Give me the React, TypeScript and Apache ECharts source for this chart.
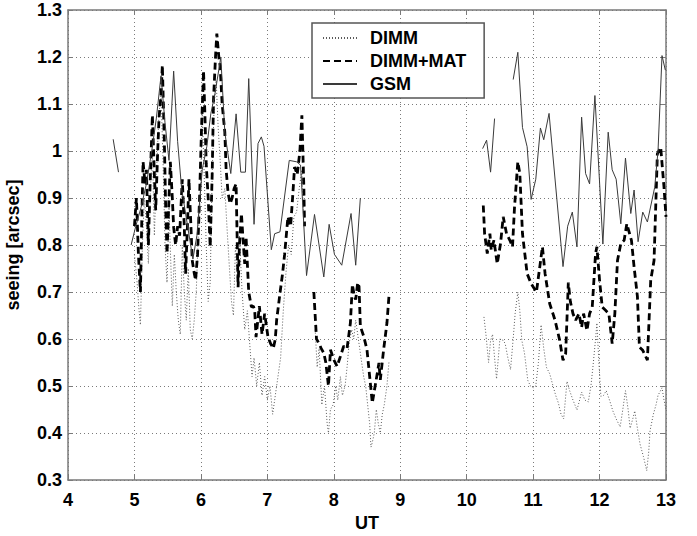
import React, { useEffect, useRef } from "react";
import * as echarts from "echarts";

// Seeing measurements against universal time [UT, arcsec]
const dimmA: [number, number][] = [
  [5.0, 0.78], [5.04, 0.72], [5.07, 0.66], [5.09, 0.63], [5.12, 0.8], [5.15, 0.9], [5.18, 0.84], [5.21, 0.76],
  [5.24, 0.92], [5.27, 1.0], [5.3, 0.82], [5.33, 0.95], [5.37, 1.08], [5.4, 1.12], [5.43, 0.98], [5.46, 0.8],
  [5.49, 0.72], [5.52, 0.88], [5.55, 0.75], [5.57, 0.67], [5.6, 0.78], [5.63, 0.7], [5.66, 0.64], [5.69, 0.61],
  [5.72, 0.8], [5.75, 0.7], [5.78, 0.64], [5.81, 0.75], [5.84, 0.62], [5.87, 0.6], [5.9, 0.64], [5.93, 0.7],
  [5.96, 0.82], [5.99, 0.9], [6.02, 1.08], [6.05, 0.95], [6.08, 0.8], [6.11, 0.68], [6.14, 0.72], [6.17, 0.95],
  [6.2, 1.1], [6.23, 1.15], [6.26, 1.05], [6.29, 0.98], [6.32, 0.9], [6.36, 0.92], [6.4, 0.82], [6.43, 0.75],
  [6.46, 0.68], [6.49, 0.65], [6.52, 0.8], [6.55, 0.72], [6.58, 0.82], [6.62, 0.7], [6.66, 0.62], [6.7, 0.66],
  [6.74, 0.58], [6.77, 0.52], [6.8, 0.56], [6.84, 0.5], [6.88, 0.55], [6.92, 0.48], [6.96, 0.52], [7.0, 0.47],
  [7.04, 0.5], [7.08, 0.44], [7.12, 0.48], [7.16, 0.52], [7.2, 0.56], [7.24, 0.66], [7.28, 0.74], [7.32, 0.8],
  [7.36, 0.78], [7.4, 0.86], [7.44, 0.87], [7.48, 0.92], [7.52, 0.96], [7.55, 0.84],
];
const dimmB: [number, number][] = [
  [7.72, 0.62], [7.75, 0.54], [7.78, 0.58], [7.82, 0.46], [7.86, 0.5], [7.9, 0.42], [7.92, 0.4], [7.95, 0.45],
  [7.99, 0.46], [8.03, 0.5], [8.06, 0.47], [8.1, 0.52], [8.13, 0.48], [8.17, 0.5], [8.2, 0.54], [8.23, 0.59],
  [8.27, 0.62], [8.3, 0.6], [8.33, 0.64], [8.37, 0.6], [8.41, 0.56], [8.45, 0.52], [8.48, 0.5], [8.51, 0.46],
  [8.54, 0.42], [8.56, 0.37], [8.58, 0.38], [8.61, 0.4], [8.64, 0.45], [8.67, 0.42], [8.7, 0.4], [8.73, 0.44],
  [8.76, 0.46], [8.8, 0.5], [8.83, 0.55],
];
const dimmC: [number, number][] = [
  [10.26, 0.647], [10.29, 0.61], [10.33, 0.55], [10.36, 0.597], [10.39, 0.61], [10.42, 0.56], [10.45, 0.515],
  [10.5, 0.6], [10.55, 0.597], [10.58, 0.59], [10.62, 0.56], [10.66, 0.535], [10.7, 0.6], [10.73, 0.655],
  [10.77, 0.7], [10.8, 0.66], [10.83, 0.597], [10.87, 0.57], [10.92, 0.512], [10.96, 0.5], [11.0, 0.496],
  [11.04, 0.5], [11.08, 0.55], [11.12, 0.63], [11.16, 0.58], [11.2, 0.54], [11.25, 0.526], [11.3, 0.5],
  [11.34, 0.48], [11.38, 0.464], [11.42, 0.44], [11.46, 0.43], [11.51, 0.51], [11.55, 0.49], [11.6, 0.47],
  [11.66, 0.449], [11.7, 0.47], [11.73, 0.487], [11.78, 0.47], [11.83, 0.466], [11.87, 0.5], [11.9, 0.54],
  [11.94, 0.6], [11.96, 0.634], [11.99, 0.55], [12.02, 0.478], [12.06, 0.48], [12.1, 0.49], [12.15, 0.47],
  [12.2, 0.447], [12.25, 0.43], [12.31, 0.413], [12.35, 0.45], [12.39, 0.49], [12.43, 0.45], [12.46, 0.41],
  [12.5, 0.43], [12.53, 0.447], [12.57, 0.41], [12.61, 0.376], [12.66, 0.35], [12.71, 0.32], [12.74, 0.36],
  [12.76, 0.405], [12.81, 0.44], [12.85, 0.46], [12.88, 0.48], [12.94, 0.496], [12.97, 0.47], [13.0, 0.45],
];

const matA: [number, number][] = [
  [5.0, 0.84], [5.03, 0.9], [5.06, 0.78], [5.09, 0.7], [5.11, 0.85], [5.13, 0.977], [5.16, 0.93], [5.18, 0.96],
  [5.21, 0.8], [5.24, 0.95], [5.27, 1.076], [5.3, 0.95], [5.32, 0.874], [5.35, 1.0], [5.37, 1.07], [5.4, 1.12],
  [5.42, 1.182], [5.45, 1.02], [5.47, 0.88], [5.49, 0.782], [5.52, 0.9], [5.54, 0.977], [5.57, 0.9], [5.59, 0.838],
  [5.62, 0.8], [5.65, 0.84], [5.68, 0.82], [5.72, 0.94], [5.75, 0.84], [5.77, 0.739], [5.8, 0.85], [5.82, 0.94],
  [5.85, 0.84], [5.87, 0.767], [5.9, 0.74], [5.92, 0.725], [5.95, 0.78], [5.98, 0.9], [6.01, 1.05], [6.04, 1.17],
  [6.06, 1.08], [6.08, 0.973], [6.11, 0.9], [6.14, 0.796], [6.17, 0.95], [6.19, 1.11], [6.22, 1.2], [6.24, 1.25],
  [6.27, 1.2], [6.29, 1.18], [6.32, 1.1], [6.36, 1.04], [6.38, 0.96], [6.41, 0.91], [6.44, 0.888], [6.47, 0.9],
  [6.5, 0.92], [6.53, 0.93], [6.56, 0.71], [6.58, 0.8], [6.61, 0.867], [6.64, 0.8], [6.66, 0.76], [6.68, 0.817],
  [6.72, 0.7], [6.76, 0.668], [6.79, 0.67], [6.81, 0.661], [6.83, 0.604], [6.88, 0.67], [6.92, 0.61], [6.96, 0.654],
  [7.01, 0.604], [7.05, 0.59], [7.09, 0.58], [7.12, 0.6], [7.14, 0.64], [7.19, 0.697], [7.23, 0.74], [7.26, 0.78],
  [7.31, 0.86], [7.35, 0.84], [7.38, 0.9], [7.41, 0.966], [7.45, 0.95], [7.49, 1.0], [7.52, 1.076], [7.55, 0.92],
  [7.56, 0.84],
];
const matB: [number, number][] = [
  [7.7, 0.7], [7.74, 0.6], [7.78, 0.59], [7.81, 0.58], [7.85, 0.57], [7.88, 0.55], [7.92, 0.5], [7.95, 0.577],
  [8.0, 0.556], [8.05, 0.542], [8.1, 0.563], [8.15, 0.585], [8.2, 0.58], [8.25, 0.634], [8.28, 0.716], [8.31, 0.69],
  [8.33, 0.684], [8.36, 0.72], [8.38, 0.712], [8.4, 0.627], [8.45, 0.606], [8.5, 0.577], [8.55, 0.506],
  [8.58, 0.464], [8.61, 0.49], [8.63, 0.506], [8.68, 0.549], [8.7, 0.513], [8.75, 0.577], [8.8, 0.634], [8.83, 0.69],
];
const matC: [number, number][] = [
  [10.25, 0.884], [10.27, 0.824], [10.31, 0.782], [10.35, 0.824], [10.37, 0.789], [10.41, 0.81], [10.46, 0.76],
  [10.51, 0.803], [10.55, 0.86], [10.6, 0.824], [10.65, 0.81], [10.69, 0.796], [10.72, 0.88], [10.77, 0.977],
  [10.8, 0.952], [10.84, 0.824], [10.91, 0.739], [10.97, 0.718], [11.05, 0.7], [11.1, 0.753], [11.14, 0.796],
  [11.18, 0.739], [11.25, 0.675], [11.33, 0.64], [11.4, 0.597], [11.45, 0.555], [11.49, 0.569], [11.53, 0.72],
  [11.56, 0.68], [11.6, 0.654], [11.64, 0.64], [11.69, 0.654], [11.73, 0.625], [11.76, 0.654], [11.81, 0.618],
  [11.85, 0.654], [11.89, 0.668], [11.94, 0.782], [11.96, 0.796], [12.0, 0.725], [12.04, 0.668], [12.09, 0.661],
  [12.14, 0.654], [12.19, 0.59], [12.23, 0.654], [12.27, 0.767], [12.32, 0.803], [12.37, 0.81], [12.41, 0.845],
  [12.44, 0.83], [12.48, 0.81], [12.52, 0.753], [12.57, 0.69], [12.6, 0.583], [12.65, 0.576], [12.72, 0.555],
  [12.77, 0.725], [12.82, 0.767], [12.87, 0.994], [12.92, 1.008], [12.97, 0.923], [13.0, 0.86],
];

const gsmA: [number, number][] = [[4.68, 1.025], [4.76, 0.955]];
const gsmB: [number, number][] = [
  [4.95, 0.8], [5.02, 0.84], [5.1, 0.88], [5.18, 0.93], [5.26, 1.0], [5.33, 1.07], [5.4, 1.16], [5.46, 1.06],
  [5.52, 0.98], [5.59, 1.17], [5.65, 1.02], [5.71, 0.92], [5.8, 0.84], [5.88, 0.77], [5.94, 0.82], [6.02, 0.96],
  [6.09, 1.01], [6.15, 1.08], [6.21, 1.12], [6.3, 1.2], [6.36, 1.04], [6.45, 0.952], [6.53, 1.079], [6.6, 0.955],
  [6.67, 0.955], [6.72, 1.154], [6.8, 0.844], [6.86, 1.016], [6.91, 1.03], [6.95, 1.01], [7.06, 0.79], [7.11, 0.824],
  [7.19, 0.828], [7.33, 0.98], [7.44, 0.977], [7.5, 0.97], [7.59, 0.735], [7.71, 0.865], [7.85, 0.732],
  [7.93, 0.844], [8.01, 0.78], [8.12, 0.757], [8.26, 0.867], [8.33, 0.757], [8.4, 0.9],
];
const gsmC: [number, number][] = [[10.24, 1.005], [10.3, 1.023], [10.36, 0.955], [10.42, 1.069]];
const gsmD: [number, number][] = [
  [10.7, 1.152], [10.77, 1.21], [10.84, 1.05], [10.91, 1.009], [10.97, 0.897], [11.04, 0.94], [11.11, 1.049],
  [11.16, 1.024], [11.24, 1.08], [11.45, 0.754], [11.52, 0.84], [11.59, 0.87], [11.66, 0.796], [11.73, 1.072],
  [11.79, 0.952], [11.85, 0.93], [11.93, 1.118], [12.05, 0.802], [12.13, 1.04], [12.19, 0.96], [12.25, 0.94],
  [12.32, 0.845], [12.39, 0.985], [12.47, 0.867], [12.52, 0.917], [12.58, 0.807], [12.65, 0.87], [12.72, 0.849],
  [12.83, 0.923], [12.88, 1.0], [12.94, 1.203], [12.99, 1.172],
];

const xTicks = { min: 4, max: 13, step: 1 };
const yTicks = { min: 0.3, max: 1.3, step: 0.1 };

// Join segments with an empty point so the line breaks between them
function joinSegments(...segs: [number, number][][]): (number | string)[][] {
  const out: (number | string)[][] = [];
  segs.forEach((s, i) => {
    if (i > 0) out.push([(segs[i - 1][segs[i - 1].length - 1][0] + s[0][0]) / 2, "-"]);
    s.forEach((p) => out.push(p));
  });
  return out;
}

const FONT = "'Liberation Sans', Arial, sans-serif";

export default function App() {
  const ref = useRef<HTMLDivElement>(null);

  useEffect(() => {
    document.body.style.margin = "0";
    const chart = echarts.init(ref.current!, undefined, { renderer: "svg" });
    const axisLine = { show: true, lineStyle: { color: "#7a7a7a", width: 1.5 } };
    const tick = { show: true, inside: true, length: 5, lineStyle: { color: "#7a7a7a", width: 1 } };
    const label = { fontFamily: FONT, fontWeight: "bold", fontSize: 18, color: "#000" };
    chart.setOption({
      animation: false,
      backgroundColor: "#ffffff",
      grid: { left: 68, right: 31, top: 10, bottom: 56, containLabel: false, outerBoundsMode: "none" },
      legend: {
        left: 312,
        top: 23,
        orient: "vertical",
        padding: [6, 18, 5, 10],
        itemGap: 5,
        itemWidth: 34,
        itemHeight: 15,
        borderColor: "#555",
        borderWidth: 1.5,
        backgroundColor: "#fff",
        itemStyle: { opacity: 0 },
        textStyle: { ...label, padding: [0, 0, 0, 8] },
        data: ["DIMM", "DIMM+MAT", "GSM"],
      },
      xAxis: [
        {
          type: "value",
          min: xTicks.min,
          max: xTicks.max,
          interval: xTicks.step,
          name: "UT",
          nameLocation: "middle",
          nameGap: 33,
          nameTextStyle: label,
          axisLine,
          axisTick: tick,
          axisLabel: { ...label, margin: 11 },
          splitLine: { show: true, lineStyle: { color: "#7a7a7a", type: [1, 3], width: 1 } },
        },
        {
          type: "value",
          position: "top",
          min: xTicks.min,
          max: xTicks.max,
          interval: xTicks.step,
          axisLine,
          axisTick: tick,
          axisLabel: { show: false },
          splitLine: { show: false },
        },
      ],
      yAxis: [
        {
          type: "value",
          min: yTicks.min,
          max: yTicks.max,
          interval: yTicks.step,
          name: "seeing [arcsec]",
          nameLocation: "middle",
          nameGap: 46,
          nameTextStyle: label,
          axisLine,
          axisTick: tick,
          axisLabel: {
            ...label,
            margin: 6,
            formatter: (v: number) => String(Number(v.toFixed(1))),
          },
          splitLine: { show: true, lineStyle: { color: "#7a7a7a", type: [1, 3], width: 1 } },
        },
        {
          type: "value",
          position: "right",
          min: yTicks.min,
          max: yTicks.max,
          interval: yTicks.step,
          axisLine,
          axisTick: tick,
          axisLabel: { show: false },
          splitLine: { show: false },
        },
      ],
      series: [
        {
          name: "DIMM",
          type: "line",
          data: joinSegments(dimmA, dimmB, dimmC),
          symbol: "none",
          connectNulls: false,
          lineStyle: { color: "#5a5a5a", width: 1, type: [1, 2] },
          itemStyle: { color: "#5a5a5a" },
          z: 2,
        },
        {
          name: "DIMM+MAT",
          type: "line",
          data: joinSegments(matA, matB, matC),
          symbol: "none",
          connectNulls: false,
          lineStyle: { color: "#000", width: 2.8, type: [7, 4] },
          itemStyle: { color: "#000" },
          z: 3,
        },
        {
          name: "GSM",
          type: "line",
          data: joinSegments(gsmA, gsmB, gsmC, gsmD),
          symbol: "none",
          connectNulls: false,
          lineStyle: { color: "#3a3a3a", width: 1 },
          itemStyle: { color: "#3a3a3a" },
          z: 4,
        },
      ],
    });
    return () => chart.dispose();
  }, []);

  return <div ref={ref} style={{ width: 697, height: 536 }} />;
}
